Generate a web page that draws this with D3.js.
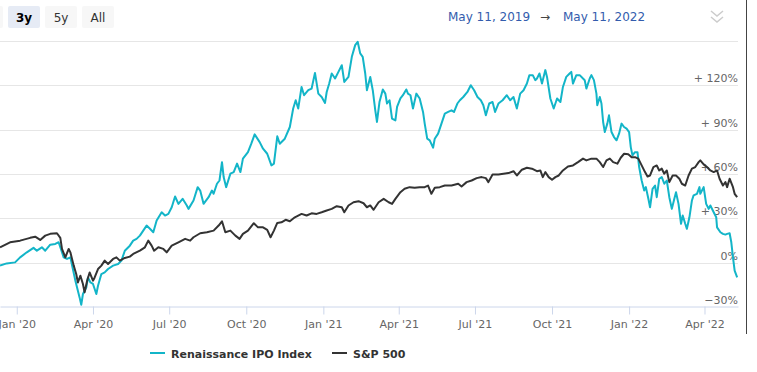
<!DOCTYPE html>
<html>
<head>
<meta charset="utf-8">
<script src="https://cdn.jsdelivr.net/npm/d3@7"></script>
<style>
  body { margin: 0; background: #fff; }
  svg { display: block; font-family: "DejaVu Sans", sans-serif; }
</style>
</head>
<body>
<div id="wrapper"></div>
<script>
// days after startDate, percent change
const startDate = new Date(2019, 11, 12)
const endDate = new Date(2022, 4, 11)

const ipoPoints = [
  [0,-2.0],[8,-0.5],[18,0.2],[24,3.6],[32,7.0],[40,10.0],[44,8.1],[50,10.4],[54,8.1],[60,12.2],
  [66,12.7],[70,13.8],[72,10.4],[76,3.6],[80,2.5],[84,3.6],[87,-4.3],[90,-12.2],[92,-16.8],[95,-23.5],
  [97,-28.5],[99,-21.2],[103,-16.8],[105,-10.0],[108,-13.4],[111,-14.4],[115,-21.2],[117,-15.6],[121,-7.7],[125,-6.6],
  [129,-4.3],[135,-2.0],[141,-0.9],[145,1.4],[149,8.1],[155,11.5],[159,14.9],[163,16.1],[167,18.3],[171,21.7],
  [175,25.1],[179,22.9],[183,20.6],[187,28.5],[193,34.1],[197,31.9],[201,33.0],[205,37.5],[209,44.8],[213,39.8],
  [218,43.2],[223,38.7],[225,36.4],[231,42.1],[236,51.1],[239,48.8],[243,39.8],[249,44.3],[253,48.8],[255,46.6],
  [259,53.4],[262,55.6],[265,68.0],[267,57.9],[270,51.1],[275,60.2],[279,61.3],[283,67.0],[287,61.3],[290,70.4],
  [296,74.8],[300,80.5],[304,86.8],[310,81.6],[314,77.1],[319,73.7],[324,65.8],[327,67.0],[331,85.5],[334,80.5],
  [340,83.9],[346,91.8],[350,104.3],[353,109.9],[356,104.3],[360,118.9],[363,113.3],[368,116.7],[372,117.8],[376,128.4],
  [380,114.4],[384,112.1],[388,108.1],[390,115.5],[393,121.2],[396,128.0],[400,124.6],[404,129.1],[408,133.6],[411,122.3],
  [416,125.7],[420,139.3],[424,147.2],[427,149.5],[430,141.6],[433,139.3],[436,128.0],[438,116.7],[442,125.7],[445,116.7],
  [448,103.1],[450,95.2],[453,108.7],[457,117.2],[460,114.4],[462,107.7],[465,109.9],[468,97.5],[472,96.3],[474,105.4],
  [478,111.1],[481,113.3],[485,117.2],[487,114.4],[490,113.3],[493,104.3],[497,114.4],[501,111.1],[505,102.0],[507,94.1],
  [510,83.9],[513,82.8],[517,77.8],[519,83.9],[523,87.3],[527,94.1],[531,100.9],[535,102.0],[539,103.1],[542,102.0],
  [546,107.7],[549,109.9],[553,112.1],[558,115.5],[562,120.1],[566,116.7],[570,112.1],[574,109.9],[577,106.5],[580,99.7],
  [584,107.7],[588,108.7],[591,102.0],[595,107.7],[600,109.9],[605,113.3],[609,109.9],[613,112.1],[617,104.3],[621,114.4],
  [625,116.7],[629,121.2],[632,126.9],[636,126.9],[639,123.5],[641,124.6],[644,128.0],[647,121.2],[651,130.3],[653,125.7],
  [657,111.1],[661,104.3],[665,111.1],[669,108.7],[672,118.9],[676,125.7],[680,128.0],[682,129.1],[684,121.2],[688,126.9],
  [692,126.9],[696,124.6],[698,123.5],[700,117.8],[704,124.6],[706,126.9],[709,123.5],[712,114.4],[713,106.5],[716,112.1],
  [718,107.7],[720,95.2],[722,88.4],[725,94.1],[727,99.7],[730,88.4],[733,85.0],[736,82.8],[739,87.3],[742,94.1],
  [745,91.8],[748,90.7],[751,88.4],[753,78.2],[755,72.6],[758,74.8],[761,74.8],[763,64.7],[766,55.6],[769,48.8],
  [771,51.1],[774,43.2],[776,37.5],[779,50.0],[782,52.2],[784,44.3],[787,56.8],[790,57.9],[793,53.4],[796,55.6],
  [799,44.3],[802,36.4],[805,43.2],[807,47.7],[810,39.8],[813,26.3],[815,31.9],[818,26.3],[820,22.9],[823,30.7],
  [826,42.1],[828,45.5],[832,46.6],[835,51.1],[836,46.6],[840,51.1],[843,39.8],[846,36.4],[848,38.7],[852,34.1],
  [855,30.7],[856,23.9],[860,20.6],[863,19.5],[866,19.0],[868,19.5],[871,19.9],[873,13.8],[875,3.6],[877,-5.4],
  [880,-10.0]
]

const spxPoints = [
  [0,10.4],[12,13.8],[24,14.9],[36,16.8],[42,17.6],[48,15.4],[54,18.3],[60,19.5],[68,19.9],[72,16.8],
  [74,9.3],[78,3.6],[82,9.3],[84,7.0],[88,-2.0],[91,-7.7],[93,-13.4],[96,-8.8],[99,-14.4],[101,-20.1],
  [104,-12.2],[107,-6.6],[111,-12.2],[113,-10.0],[117,-4.3],[121,-2.0],[125,1.4],[129,-0.9],[135,2.5],[139,3.6],
  [143,1.4],[149,3.2],[155,4.1],[159,5.9],[167,8.1],[173,10.4],[177,14.9],[181,11.5],[184,8.1],[189,10.4],
  [195,9.3],[199,7.0],[205,11.5],[213,13.8],[221,16.1],[227,14.9],[231,17.2],[239,19.9],[247,20.6],[255,21.7],
  [261,25.1],[265,28.0],[269,20.6],[275,21.7],[281,18.3],[286,16.1],[290,19.5],[296,21.7],[303,26.7],[308,23.9],
  [314,23.9],[319,22.2],[323,17.2],[327,21.7],[331,26.9],[336,27.3],[341,29.0],[346,28.0],[352,30.7],[360,33.0],
  [366,31.9],[372,33.4],[378,33.0],[384,34.1],[390,35.3],[396,36.4],[402,38.2],[408,37.5],[411,34.1],[416,38.7],
  [422,40.9],[428,41.6],[434,40.2],[438,37.5],[442,38.7],[446,35.8],[452,40.9],[458,43.2],[464,40.9],[468,39.8],
  [472,43.2],[478,47.7],[483,50.0],[489,51.1],[495,50.7],[501,51.1],[507,51.1],[511,52.2],[515,46.6],[519,50.7],
  [525,51.1],[531,52.2],[539,52.2],[547,53.4],[551,51.6],[557,54.5],[563,55.6],[569,57.2],[575,57.9],[580,57.2],
  [583,54.5],[588,59.7],[595,59.7],[601,60.2],[607,60.6],[613,61.9],[617,59.0],[623,62.9],[629,64.2],[635,63.6],
  [641,61.9],[645,62.4],[648,57.9],[651,61.3],[655,57.9],[659,56.1],[663,57.9],[667,59.0],[672,62.4],[678,65.1],
  [684,65.8],[690,68.0],[696,70.4],[700,69.2],[706,70.4],[712,70.4],[716,68.0],[720,64.7],[724,69.2],[728,70.4],
  [732,68.0],[737,67.0],[741,71.0],[745,73.7],[750,73.3],[754,71.4],[758,71.4],[762,70.4],[766,65.8],[770,61.3],
  [773,58.3],[776,59.0],[780,64.7],[784,65.8],[787,62.4],[790,63.6],[793,60.2],[796,62.4],[799,54.5],[803,59.0],
  [807,59.0],[811,56.8],[814,53.4],[818,52.2],[822,59.0],[826,63.6],[830,64.7],[834,68.0],[836,69.2],[840,66.5],
  [844,64.7],[848,62.4],[852,61.3],[856,62.4],[859,56.8],[863,52.2],[866,54.5],[868,51.1],[871,56.8],[875,51.1],
  [877,46.6],[880,44.3]
]

const yTicks = [-30, 0, 30, 60, 90, 120, 150]
const yTickLabels = {"-30": "\u221230%", "0": "0%", "30": "+ 30%", "60": "+ 60%", "90": "+ 90%", "120": "+ 120%", "150": ""}
const rangeButtons = ["3y", "5y", "All"]
const selectedRange = "3y"
const rangeFrom = "May 11, 2019"
const rangeTo = "May 11, 2022"
const seriesNames = ["Renaissance IPO Index", "S&P 500"]
const seriesColors = ["#13b5c8", "#333333"]

function drawChart() {

  let dimensions = {
    width: 757,
    height: 372,
    plotLeft: 0,
    plotRight: 738,
    plotTop: 41,
    plotBottom: 307,
  }

  const svg = d3.select("#wrapper")
    .append("svg")
      .attr("width", dimensions.width)
      .attr("height", dimensions.height)

  const toSeries = pts => pts.map(([d, v]) => ({date: d3.timeDay.offset(startDate, d), value: v}))
  const series = [toSeries(ipoPoints), toSeries(spxPoints)]

  // scales
  const xScale = d3.scaleTime()
    .domain([startDate, endDate])
    .range([dimensions.plotLeft, dimensions.plotRight])

  const yScale = d3.scaleLinear()
    .domain([-30, 150])
    .range([dimensions.plotBottom, dimensions.plotTop])

  // grid
  svg.append("g")
    .selectAll("line")
    .data(yTicks.filter(t => t > -30))
    .join("line")
      .attr("x1", dimensions.plotLeft)
      .attr("x2", dimensions.plotRight)
      .attr("y1", d => Math.round(yScale(d)) + 0.5)
      .attr("y2", d => Math.round(yScale(d)) + 0.5)
      .attr("stroke", "#e6e6e6")

  // y labels (under the lines)
  svg.append("g")
    .selectAll("text")
    .data(yTicks)
    .join("text")
      .attr("x", dimensions.plotRight)
      .attr("y", d => yScale(d) - 3)
      .attr("text-anchor", "end")
      .attr("font-size", 11)
      .attr("fill", "#666")
      .text(d => yTickLabels[d])

  // x axis
  const xAxis = d3.axisBottom(xScale)
    .ticks(d3.timeMonth.every(3))
    .tickFormat(d3.timeFormat("%b '%y"))
    .tickSize(8)
    .tickSizeOuter(0)
    .tickPadding(6)

  const xAxisG = svg.append("g")
    .attr("transform", `translate(0, ${Math.round(dimensions.plotBottom) - 0.5})`)
    .call(xAxis)
  xAxisG.select(".domain").attr("stroke", "#ccd6eb")
  xAxisG.selectAll(".tick line").attr("stroke", "#ccd6eb")
  xAxisG.selectAll(".tick text")
    .attr("fill", "#666")
    .attr("font-size", 11)
    .attr("font-family", "DejaVu Sans, sans-serif")

  // lines
  const lineGen = d3.line()
    .x(d => xScale(d.date))
    .y(d => yScale(d.value))

  svg.append("g")
    .selectAll("path")
    .data(series)
    .join("path")
      .attr("d", d => lineGen(d))
      .attr("fill", "none")
      .attr("stroke", (d, i) => seriesColors[i])
      .attr("stroke-width", 2)
      .attr("stroke-linejoin", "round")

  // right edge
  svg.append("line")
    .attr("x1", 746.5).attr("x2", 746.5)
    .attr("y1", 0).attr("y2", 334)
    .attr("stroke", "#444")

  // range selector buttons
  const btn = svg.append("g")
    .selectAll("g")
    .data(["", ...rangeButtons])
    .join("g")
      .attr("transform", (d, i) => `translate(${-29 + i * 37}, 6)`)
  btn.append("rect")
    .attr("width", 32).attr("height", 22).attr("rx", 2)
    .attr("fill", d => d === selectedRange ? "#e6ebf5" : "#f7f7f7")
  btn.append("text")
    .attr("x", 16).attr("y", 15.5)
    .attr("text-anchor", "middle")
    .attr("font-size", 12)
    .attr("font-weight", d => d === selectedRange ? "bold" : "normal")
    .attr("fill", d => d === selectedRange ? "#000" : "#333")
    .text(d => d)

  // date range
  const dates = svg.append("g").attr("font-size", 12)
  dates.append("text").attr("x", 448).attr("y", 21).attr("fill", "#335cad").text(rangeFrom)
  dates.append("text").attr("x", 540).attr("y", 21).attr("fill", "#444").text("\u2192")
  dates.append("text").attr("x", 563).attr("y", 21).attr("fill", "#335cad").text(rangeTo)

  // menu chevrons
  svg.append("path")
    .attr("d", "M711,11 L717,16 L723,11 M711,17 L717,22 L723,17")
    .attr("fill", "none")
    .attr("stroke", "#ccc")
    .attr("stroke-width", 1.5)

  // legend
  const legendX = [150, 332]
  const legend = svg.append("g")
    .selectAll("g")
    .data(seriesNames)
    .join("g")
      .attr("transform", (d, i) => `translate(${legendX[i]}, 353)`)
  legend.append("line")
    .attr("x1", 0).attr("x2", 15)
    .attr("stroke", (d, i) => seriesColors[i])
    .attr("stroke-width", 2)
  legend.append("text")
    .attr("x", 21).attr("y", 4.5)
    .attr("font-size", 11)
    .attr("font-weight", "bold")
    .attr("fill", "#333")
    .text(d => d)
}

drawChart()
</script>
</body>
</html>
